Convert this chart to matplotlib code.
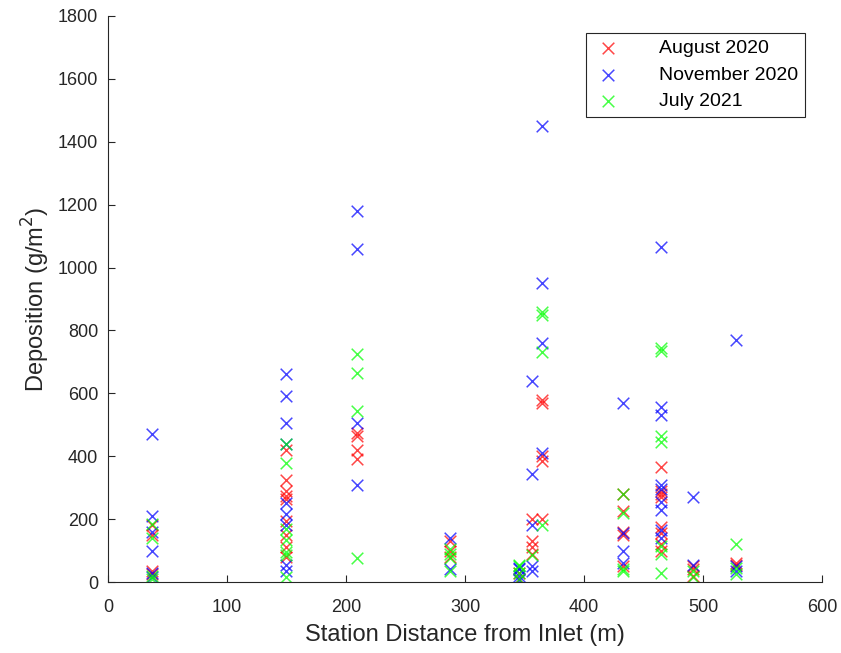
import numpy as np
import matplotlib.pyplot as plt

plt.rcParams['font.family'] = ['Liberation Sans', 'DejaVu Sans']

# Deposition per station (distance from inlet in m, deposition in g/m^2)
aug_x = [37, 37, 37, 37,
         150, 150, 150, 150, 150, 150, 150, 150, 150,
         209, 209, 209, 209,
         287, 287, 287,
         345, 345,
         356, 356, 356, 356,
         365, 365, 365, 365, 365,
         433, 433, 433, 433, 433,
         465, 465, 465, 465, 465, 465, 465, 465,
         492, 492, 492,
         528, 528]
aug_y = [180, 150, 35, 25,
         420, 325, 290, 275, 265, 195, 150, 110, 80,
         475, 465, 420, 390,
         130, 100, 80,
         30, 10,
         200, 130, 110, 90,
         580, 570, 400, 385, 200,
         280, 225, 160, 150, 50,
         365, 290, 280, 270, 175, 155, 120, 100,
         50, 40, 20,
         60, 55]

nov_x = [37, 37, 37, 37, 37, 37,
         150, 150, 150, 150, 150, 150, 150, 150, 150,
         209, 209, 209, 209,
         287, 287,
         345, 345, 345, 345,
         356, 356, 356, 356, 356,
         365, 365, 365, 365,
         433, 433, 433, 433,
         465, 465, 465, 465, 465, 465, 465, 465, 465,
         492, 492,
         528, 528, 528]
nov_y = [470, 210, 160, 100, 30, 15,
         660, 590, 505, 440, 250, 215, 180, 55, 35,
         1180, 1060, 505, 310,
         140, 40,
         45, 40, 20, 5,
         640, 345, 180, 50, 35,
         1450, 950, 760, 410,
         570, 155, 100, 60,
         1065, 555, 530, 310, 295, 255, 230, 165, 140,
         270, 55,
         770, 50, 35]

jul_x = [37, 37, 37, 37,
         150, 150, 150, 150, 150, 150, 150,
         209, 209, 209, 209,
         287, 287, 287, 287,
         345, 345, 345, 345,
         356,
         365, 365, 365, 365,
         433, 433, 433, 433,
         465, 465, 465, 465, 465, 465, 465,
         492, 492,
         528, 528, 528]
jul_y = [185, 140, 20, 10,
         440, 380, 170, 135, 95, 85, 15,
         725, 665, 545, 75,
         105, 90, 75, 35,
         55, 50, 30, 10,
         85,
         860, 850, 730, 180,
         280, 220, 40, 35,
         745, 735, 465, 445, 115, 90, 30,
         35, 15,
         120, 45, 25]

fig = plt.figure(figsize=(8.41, 6.53), dpi=100)
ax = fig.add_axes([0.1284, 0.1087, 0.849, 0.8668])

mk = dict(marker='x', s=70, linewidths=1.1, alpha=0.72)
ax.scatter(aug_x, aug_y, color='red', label='August 2020', **mk)
ax.scatter(nov_x, nov_y, color='blue', label='November 2020', **mk)
ax.scatter(jul_x, jul_y, color='lime', label='July 2021', **mk)

ax.set_xlim(0, 600)
ax.set_ylim(0, 1800)
ax.set_xticks(np.arange(0, 601, 100))
ax.set_yticks(np.arange(0, 1801, 200))
ax.tick_params(direction='in', labelsize=13, length=5, width=0.8, colors='#262626')
ax.tick_params(axis='x', pad=12)
ax.tick_params(axis='y', pad=7)
for side in ['top', 'right']:
    ax.spines[side].set_visible(False)
for side in ['left', 'bottom']:
    ax.spines[side].set_color('#262626')
    ax.spines[side].set_linewidth(0.8)

ax.set_xlabel('Station Distance from Inlet (m)', fontsize=17, color='#262626', labelpad=6)
ax.set_ylabel('Deposition (g/m$^2$)', fontsize=17, color='#262626', labelpad=4)

leg = ax.legend(loc='upper right', bbox_to_anchor=(0.976, 0.970), borderaxespad=0,
                fontsize=14, fancybox=False, edgecolor='#262626', framealpha=1,
                borderpad=0.35, labelspacing=0.45, handlelength=1.6, handletextpad=1.8)
leg.get_frame().set_linewidth(0.8)

fig.savefig('out.png', dpi=100)
